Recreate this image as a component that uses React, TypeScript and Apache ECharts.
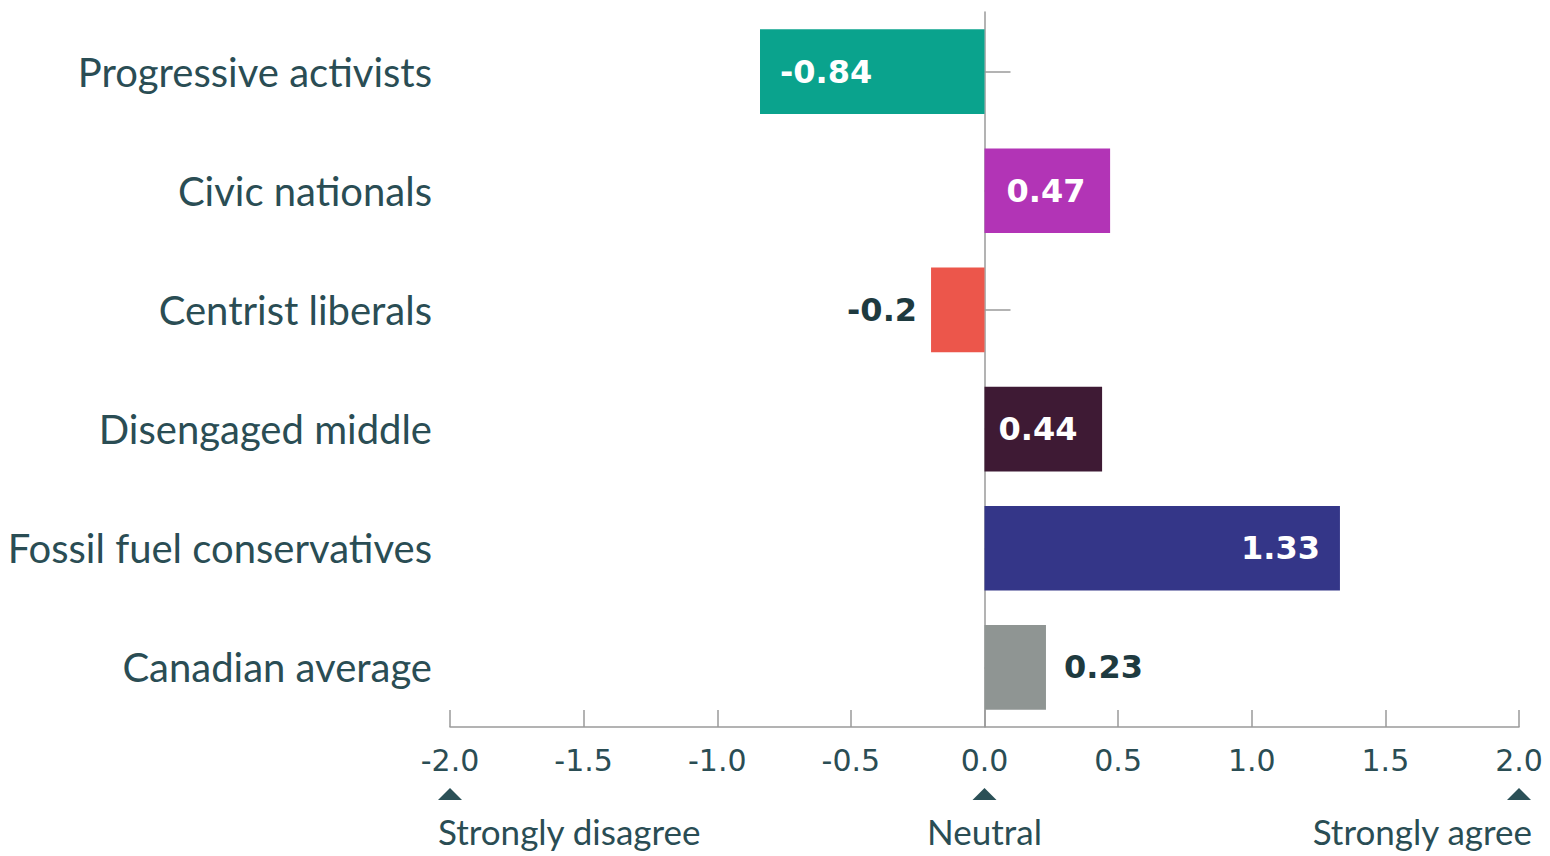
import React, { useEffect, useRef } from "react";
import * as echarts from "echarts";

const categories = [
  "Progressive activists",
  "Civic nationals",
  "Centrist liberals",
  "Disengaged middle",
  "Fossil fuel conservatives",
  "Canadian average",
];
const values = [-0.84, 0.47, -0.2, 0.44, 1.33, 0.23];
const barColors = ["#0aa38d", "#b234b6", "#ec564b", "#3e1a34", "#343688", "#8f9593"];
const labelPositions = ["insideLeft", "insideLeft", "left", "insideLeft", "insideRight", "right"];
const labelDistances = [20, 22, 14, 14, 20, 18];
const labelInside = [true, true, false, true, true, false];
const xTicks = { min: -2, max: 2, interval: 0.5 };
const anchors = [
  { value: -2, text: "Strongly disagree", align: "left" },
  { value: 0, text: "Neutral", align: "center" },
  { value: 2, text: "Strongly agree", align: "right" },
];

const TEXT = "#2a4d54";
const DARK = "#1e3a3f";
const FONT = "Lato, 'Open Sans', sans-serif";
const WIDE = "'DejaVu Sans', sans-serif";

export default function App() {
  const ref = useRef<HTMLDivElement>(null);
  useEffect(() => {
    if (!ref.current) return;
    const chart = echarts.init(ref.current, undefined, { renderer: "svg" });
    const option: any = {
      animation: false,
      backgroundColor: "#ffffff",
      grid: { left: 450, right: 31, top: 12, bottom: 129 },
      xAxis: {
        type: "value",
        min: xTicks.min,
        max: xTicks.max,
        interval: xTicks.interval,
        splitLine: { show: false },
        axisLine: { show: true, lineStyle: { color: "#9a9a9a", width: 1.5 } },
        axisTick: { show: true, inside: true, length: 17, lineStyle: { color: "#9a9a9a", width: 1.5 } },
        axisLabel: {
          color: TEXT,
          fontFamily: WIDE,
          fontSize: 30,
          margin: 18,
          formatter: (v: number) => v.toFixed(1),
        },
      },
      yAxis: [
        {
          type: "category",
          data: categories,
          inverse: true,
          position: "left",
          axisLine: { show: false, onZero: false },
          axisTick: { show: false },
          axisLabel: { color: TEXT, fontFamily: FONT, fontSize: 40, margin: 18 },
        },
        {
          type: "category",
          data: categories,
          inverse: true,
          position: "left",
          axisLine: { show: true, onZero: true, lineStyle: { color: "#9a9a9a", width: 1.5 } },
          axisTick: { show: true, inside: true, length: 26, alignWithLabel: true, lineStyle: { color: "#9a9a9a", width: 1.5 } },
          axisLabel: { show: false },
        },
      ],
      series: [
        {
          type: "bar",
          yAxisIndex: 0,
          barCategoryGap: "29%",
          z: 3,
          data: values.map((v, i) => ({
            value: v,
            itemStyle: { color: barColors[i] },
            label: {
              show: true,
              position: labelPositions[i],
              distance: labelDistances[i],
              color: labelInside[i] ? "#ffffff" : DARK,
              fontFamily: WIDE,
              fontWeight: "bold",
              fontSize: 32,
              formatter: String(v),
            },
          })),
        },
      ],
    };
    chart.setOption(option);
    const graphics: any[] = [];
    anchors.forEach((a) => {
      const x = chart.convertToPixel({ xAxisIndex: 0 }, a.value) as number;
      graphics.push({
        type: "polygon",
        shape: { points: [[x - 12, 800], [x, 788], [x + 12, 800]] },
        style: { fill: "#2b5057" },
      });
      const tx = a.align === "left" ? x - 12 : a.align === "right" ? x + 13 : x;
      graphics.push({
        type: "text",
        x: tx,
        y: 831,
        style: {
          text: a.text,
          fill: TEXT,
          font: `35px ${FONT}`,
          align: a.align,
          verticalAlign: "middle",
        },
      });
    });
    chart.setOption({ graphic: graphics });
    return () => chart.dispose();
  }, []);
  return (
    <div
      ref={ref}
      style={{ position: "fixed", left: 0, top: 0, width: 1550, height: 856, background: "#fff" }}
    />
  );
}
